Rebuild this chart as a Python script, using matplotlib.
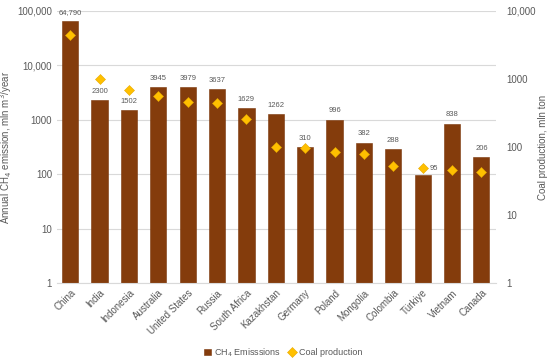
import matplotlib
matplotlib.use("Agg")
from matplotlib import pyplot as plt
from matplotlib.ticker import FixedLocator, FixedFormatter, NullLocator
import numpy as np

plt.rcParams['font.family'] = ['Liberation Sans', 'DejaVu Sans']

countries = ['China', 'India', 'Indonesia', 'Australia', 'United States', 'Russia',
             'South Africa', 'Kazakhstan', 'Germany', 'Poland', 'Mongolia',
             'Colombia', 'Türkiye', 'Vietnam', 'Canada']
ch4 = [64790, 2300, 1502, 3945, 3979, 3637, 1629, 1262, 310, 996, 382, 288, 95, 838, 206]
ch4_labels = ['64,790', '2300', '1502', '3945', '3979', '3637', '1629', '1262',
              '310', '996', '382', '288', '95', '838', '206']
coal = [4460, 1000, 690, 560, 460, 440, 260, 100, 97, 84, 79, 52, 49, 46, 43]

left_ticks = [1, 10, 100, 1000, 10000, 100000]
left_labels = ['1', '10', '100', '1000', '10,000', '100,000']
right_ticks = [1, 10, 100, 1000, 10000]
right_labels = ['1', '10', '100', '1000', '10,000']

brown = '#843C0C'
gold = '#FFC000'
grey = '#595959'

fig = plt.figure(figsize=(5.5, 3.63), dpi=100)
ax = fig.add_axes([0.1036, 0.2204, 0.7984, 0.7493])
x = np.arange(len(countries))

bars = ax.bar(x, ch4, width=0.55, color=brown, edgecolor='#7a3509', linewidth=0.4,
              zorder=2, label='CH$_4$ Emisssions')
ax.set_yscale('log')
ax.set_ylim(1, 100000)
ax.set_xlim(-0.45, len(countries) - 0.5)
ax.yaxis.set_major_locator(FixedLocator(left_ticks))
ax.yaxis.set_major_formatter(FixedFormatter(left_labels))
ax.yaxis.set_minor_locator(NullLocator())
ax.grid(axis='y', color='#d9d9d9', linewidth=0.8, zorder=0)
ax.set_xticks(x)
ax.set_xticklabels(countries, rotation=45, ha='right', rotation_mode='anchor',
                   fontsize=7, color=grey)
ax.tick_params(axis='both', length=0, labelsize=7, colors=grey)
for s in ax.spines.values():
    s.set_visible(False)
ax.spines['bottom'].set_visible(True)
ax.spines['bottom'].set_color('#d9d9d9')
ax.set_ylabel('Annual CH$_4$ emission, mln m$^3$/year', fontsize=7, color=grey, labelpad=2)

for i, (v, lab) in enumerate(zip(ch4, ch4_labels)):
    if countries[i] == 'Türkiye':
        continue
    ax.annotate(lab, (x[i], v), xytext=(0, 4), textcoords='offset points',
                ha='center', va='bottom', fontsize=5.5, color=grey)

ax2 = ax.twinx()
ax2.set_yscale('log')
ax2.set_ylim(1, 10000)
ax2.yaxis.set_major_locator(FixedLocator(right_ticks))
ax2.yaxis.set_major_formatter(FixedFormatter(right_labels))
ax2.yaxis.set_minor_locator(NullLocator())
ax2.tick_params(axis='y', length=0, labelsize=7, colors=grey, pad=7)
for s in ax2.spines.values():
    s.set_visible(False)
ax2.plot(x, coal, linestyle='none', marker='D', markersize=5.5, color=gold,
         markeredgecolor='#e6a800', markeredgewidth=0.4, zorder=3, label='Coal production')
ax2.set_ylabel('Coal production, mln ton', fontsize=7, color=grey, labelpad=2)

ti = countries.index('Türkiye')
ax2.annotate(ch4_labels[ti], (x[ti], coal[ti]), xytext=(5, 0), textcoords='offset points',
             ha='left', va='center', fontsize=5.5, color=grey)

h1, l1 = ax.get_legend_handles_labels()
h2, l2 = ax2.get_legend_handles_labels()
fig.legend(h1 + h2, l1 + l2, loc='lower center', bbox_to_anchor=(0.515, -0.01), ncol=2,
           frameon=False, fontsize=6.5, labelcolor=grey, handlelength=0.7,
           handleheight=0.7, columnspacing=0.8, handletextpad=0.4)

fig.savefig('out.png', dpi=100)
